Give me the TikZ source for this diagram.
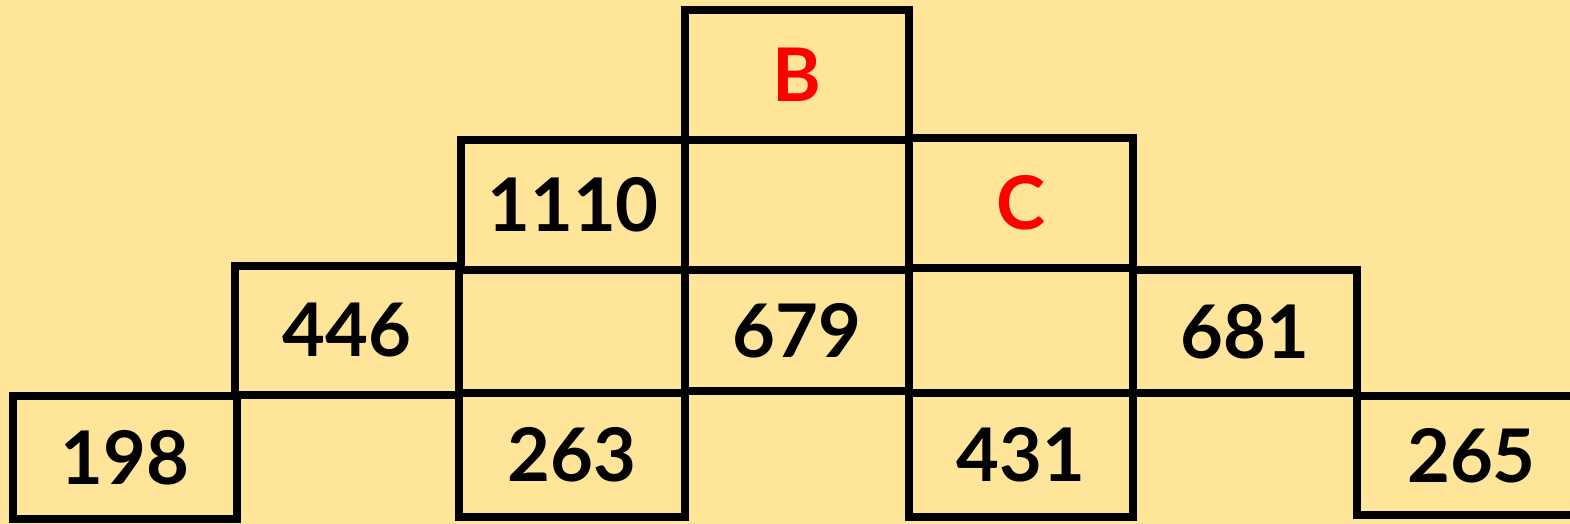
\documentclass[tikz,border=0pt]{standalone}
\usepackage{fontspec}
\setmainfont{Lato}
\definecolor{bg}{HTML}{FFE599}
\definecolor{lbl}{HTML}{FF0000}
\newcommand\brick[6]{%
  \node[brickbox, minimum width={(#4-#2)*0.5pt}, minimum height={(#5-#3)*0.5pt}]
    (#1) at ({(#2+#4)/2},{(#3+#5)/2}) {#6};}
\tikzset{
  brickbox/.style={draw=black, line width=3.8pt, inner sep=0pt, outer sep=0pt,
    font=\fontsize{37}{40}\selectfont\bfseries, text=black}
}
\begin{document}
\begin{tikzpicture}[x=0.5pt, y=-0.5pt]
\useasboundingbox (0,0) rectangle (1570,524);
\fill[bg] (0,0) rectangle (1570,524);
\clip (0,0) rectangle (1570,524);
% row 1
\brick{b}{685}{10}{909}{140}{\textcolor{lbl}{B}}
% row 2
\brick{r2a}{461}{140}{685}{270}{1110}
\brick{c}{909}{138}{1133}{268}{\textcolor{lbl}{C}}
% row 3
\brick{r3a}{235}{266}{459}{395}{446}
\brick{r3b}{685}{270}{909}{391}{679}
\brick{r3c}{1133}{270}{1357}{393}{681}
% row 4
\brick{r4a}{13}{396}{237}{519}{198}
\brick{r4b}{459}{393}{685}{517}{263}
\brick{r4c}{909}{393}{1133}{517}{431}
\brick{r4d}{1357}{396}{1600}{515}{\hspace*{-7pt}265}
\end{tikzpicture}
\end{document}
